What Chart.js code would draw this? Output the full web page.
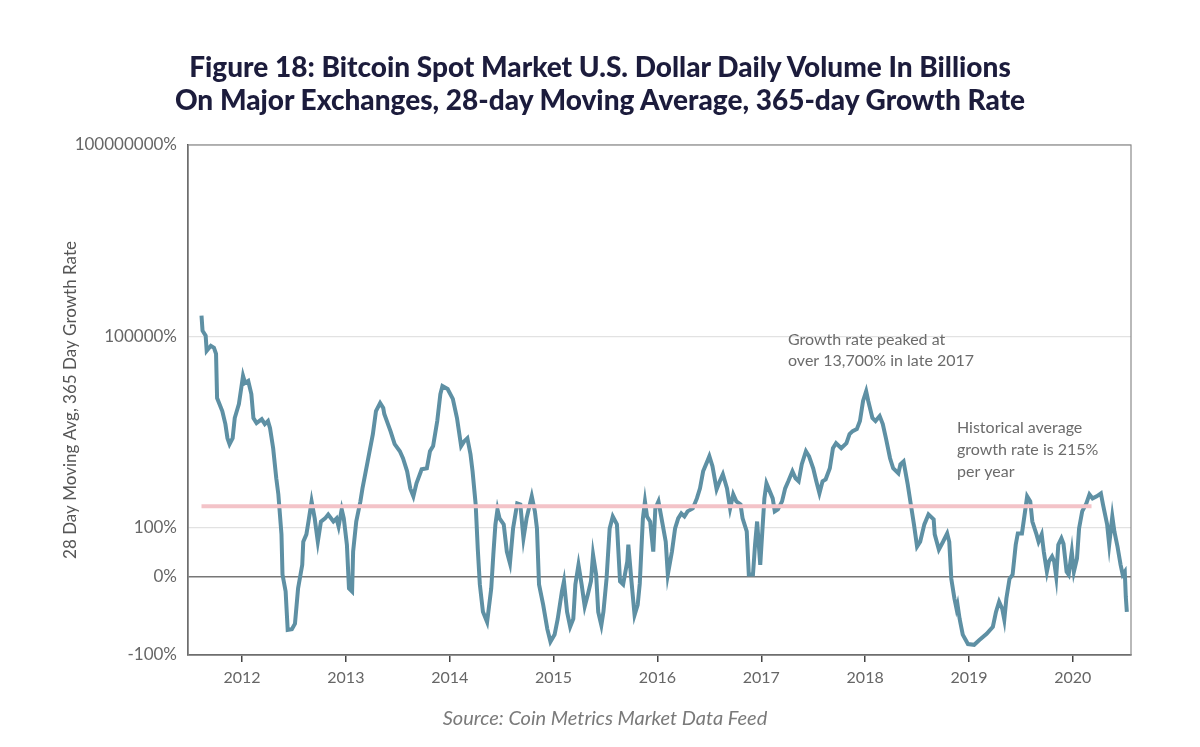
<!DOCTYPE html>
<html>
<head>
<meta charset="utf-8">
<script src="https://cdn.jsdelivr.net/npm/chart.js@4"></script>
<style>
  html, body { margin: 0; padding: 0; background: #fff; }
  #wrap { position: relative; width: 1200px; height: 747px; }
  #title {
    position: absolute; left: 0; top: 50px; width: 1200px; text-align: center;
    font-family: Lato, sans-serif; font-weight: 900; font-size: 28px; line-height: 33px;
    color: #1c1c3c;
  }
  #source {
    position: absolute; left: 0; top: 705px; width: 1210px; text-align: center;
    font-family: Lato, sans-serif; font-style: italic; font-size: 20px; color: #7a7a7a;
  }
  canvas { position: absolute; left: 0; top: 0; }
</style>
</head>
<body>
<div id="wrap">
  <canvas id="growthChart" width="1200" height="747"></canvas>
  <div id="title">Figure 18: Bitcoin Spot Market U.S. Dollar Daily Volume In Billions<br>On Major Exchanges, 28-day Moving Average, 365-day Growth Rate</div>
  <div id="source">Source: Coin Metrics Market Data Feed</div>
</div>
<script>
// dates as decimal years, values as 365-day growth in %
const dates = [
  2011.61, 2011.62, 2011.65, 2011.66, 2011.70, 2011.73, 2011.75, 2011.76, 2011.81, 2011.84,
  2011.86, 2011.88, 2011.91, 2011.93, 2011.97, 2012.01, 2012.03, 2012.06, 2012.09, 2012.11,
  2012.14, 2012.19, 2012.22, 2012.25, 2012.27, 2012.30, 2012.33, 2012.35, 2012.38, 2012.39,
  2012.42, 2012.44, 2012.48, 2012.51, 2012.54, 2012.58, 2012.59, 2012.62, 2012.64, 2012.67,
  2012.70, 2012.73, 2012.76, 2012.80, 2012.83, 2012.88, 2012.91, 2012.93, 2012.96, 2012.98,
  2013.01, 2013.03, 2013.06, 2013.07, 2013.10, 2013.14, 2013.16, 2013.21, 2013.26, 2013.29,
  2013.33, 2013.36, 2013.37, 2013.43, 2013.47, 2013.52, 2013.55, 2013.59, 2013.62, 2013.65,
  2013.68, 2013.73, 2013.78, 2013.81, 2013.84, 2013.88, 2013.91, 2013.93, 2013.98, 2014.03,
  2014.07, 2014.11, 2014.14, 2014.17, 2014.20, 2014.22, 2014.25, 2014.27, 2014.29, 2014.32,
  2014.36, 2014.40, 2014.42, 2014.44, 2014.46, 2014.48, 2014.52, 2014.55, 2014.58, 2014.61,
  2014.65, 2014.68, 2014.71, 2014.74, 2014.79, 2014.82, 2014.84, 2014.86, 2014.90, 2014.94,
  2014.97, 2015.01, 2015.04, 2015.08, 2015.10, 2015.13, 2015.16, 2015.19, 2015.21, 2015.24,
  2015.27, 2015.30, 2015.33, 2015.36, 2015.38, 2015.41, 2015.43, 2015.46, 2015.48, 2015.51,
  2015.54, 2015.57, 2015.61, 2015.64, 2015.67, 2015.71, 2015.72, 2015.75, 2015.78, 2015.81,
  2015.83, 2015.86, 2015.88, 2015.90, 2015.93, 2015.96, 2015.98, 2016.01, 2016.05, 2016.08,
  2016.10, 2016.14, 2016.17, 2016.20, 2016.23, 2016.26, 2016.29, 2016.34, 2016.38, 2016.41,
  2016.44, 2016.48, 2016.50, 2016.53, 2016.57, 2016.60, 2016.63, 2016.67, 2016.70, 2016.73,
  2016.76, 2016.80, 2016.82, 2016.86, 2016.88, 2016.92, 2016.94, 2016.96, 2016.99, 2017.01,
  2017.03, 2017.05, 2017.07, 2017.11, 2017.13, 2017.16, 2017.20, 2017.23, 2017.26, 2017.30,
  2017.33, 2017.36, 2017.39, 2017.43, 2017.46, 2017.50, 2017.53, 2017.56, 2017.59, 2017.62,
  2017.66, 2017.69, 2017.72, 2017.77, 2017.82, 2017.85, 2017.88, 2017.92, 2017.95, 2017.98,
  2018.01, 2018.03, 2018.07, 2018.10, 2018.14, 2018.17, 2018.20, 2018.24, 2018.27, 2018.32,
  2018.34, 2018.37, 2018.41, 2018.44, 2018.47, 2018.50, 2018.53, 2018.57, 2018.61, 2018.66,
  2018.67, 2018.71, 2018.75, 2018.79, 2018.81, 2018.83, 2018.86, 2018.88, 2018.89, 2018.91,
  2018.94, 2018.99, 2019.05, 2019.10, 2019.17, 2019.23, 2019.26, 2019.29, 2019.32, 2019.34,
  2019.36, 2019.39, 2019.42, 2019.45, 2019.47, 2019.51, 2019.54, 2019.56, 2019.59, 2019.61,
  2019.65, 2019.67, 2019.70, 2019.72, 2019.75, 2019.77, 2019.80, 2019.82, 2019.84, 2019.86,
  2019.89, 2019.91, 2019.94, 2019.96, 2019.99, 2020.01, 2020.04, 2020.06, 2020.09, 2020.13,
  2020.16, 2020.19, 2020.23, 2020.27, 2020.29, 2020.33, 2020.35, 2020.38, 2020.40, 2020.43,
  2020.46, 2020.48, 2020.50, 2020.51, 2020.52
];
const growthPct = [
  210400, 122100, 101800, 59100, 70800, 65900, 53000, 10750, 6710, 4190,
  2520, 2030, 2520, 5210, 8650, 23900, 18500, 19900, 12400, 5210,
  4340, 5020, 4190, 4670, 3620, 1750, 591, 331, 86, 4,
  -19, -68, -67, -60, -15, 24, 71, 86, 124, 257,
  139, 71, 124, 139, 160, 124, 139, 104, 192, 139,
  65, -15, -19, 51, 124, 257, 411, 1090, 2910, 6710,
  8970, 7480, 6020, 3250, 2030, 1570, 1220, 762, 411, 308,
  493, 819, 850, 1570, 1890, 4670, 12400, 16600, 14900, 10400,
  5210, 1890, 2260, 2520, 1410, 762, 230, 57, -10, -45,
  -58, -15, 45, 112, 192, 139, 112, 51, 27, 98,
  239, 230, 78, 139, 308, 179, 98, -10, -36, -67,
  -83, -74, -54, -19, -6, -45, -64, -54, -10, 24,
  -10, -38, -23, -6, 45, 4, -45, -62, -45, -3,
  98, 149, 112, -6, -10, 31, 65, -6, -49, -36,
  -9, 139, 257, 149, 124, 51, 199, 257, 112, 71,
  4, 51, 98, 139, 166, 149, 179, 199, 286, 411,
  762, 1090, 1310, 914, 397, 530, 683, 411, 199, 331,
  257, 230, 139, 92, 4, 4, 65, 124, 24, 92,
  286, 493, 411, 286, 179, 192, 257, 411, 530, 762,
  591, 530, 982, 1570, 1310, 850, 530, 343, 530, 570,
  850, 1750, 2100, 1750, 2100, 2910, 3250, 3490, 4670, 9640,
  13700, 9640, 5210, 4670, 5600, 4190, 2520, 1220, 850, 708,
  982, 1090, 475, 230, 112, 61, 71, 112, 160, 134,
  86, 55, 71, 88, 71, -3, -28, -41, -36, -54,
  -74, -86, -87, -81, -73, -64, -45, -32, -41, -55,
  -28, -3, 4, 65, 88, 88, 179, 308, 257, 124,
  86, 71, 86, 51, 10, 31, 41, 31, 0, 65,
  78, 67, 10, 4, 51, 10, 37, 98, 179, 239,
  331, 286, 308, 343, 230, 112, 65, 149, 92, 61,
  24, 4, 10, -26, -45
];

const avgGrowth = 215;          // historical average, % per year
const avgSpan = [2011.61, 2020.18];
const yearTicks = [2012, 2013, 2014, 2015, 2016, 2017, 2018, 2019, 2020];
const yTickValues = [100000000, 100000, 100, 0, -100];
const yTickLabels = ["100000000%", "100000%", "100%", "0%", "-100%"];

// axis is log above 100%, stretched linear below it
function toAxis(g) {
    if (g >= 100) return Math.log10(g / 100);
    if (g >= 0) return -0.77 + 0.77 * g / 100;
    return -0.77 + 1.23 * g / 100;
}

const points = dates.map((d, i) => ({ x: d, y: toAxis(growthPct[i]) }));
const avgLine = avgSpan.map((d) => ({ x: d, y: toAxis(avgGrowth) }));
const yTickPos = yTickValues.map(toAxis);

const notes = {
    id: "notes",
    beforeDatasetsDraw(chart) {
        const { ctx, chartArea: a } = chart;
        ctx.save();
        ctx.strokeStyle = "#8a8a8a";
        ctx.lineWidth = 1.2;
        ctx.strokeRect(a.left, a.top, a.right - a.left, a.bottom - a.top);
        ctx.restore();
    },
    afterDraw(chart) {
        const ctx = chart.ctx;
        ctx.save();
        ctx.fillStyle = "#6b6b6b";
        ctx.font = "16px Lato, sans-serif";
        ctx.textBaseline = "middle";
        ctx.fillText("Growth rate peaked at", 788, 340);
        ctx.fillText("over 13,700% in late 2017", 788, 361);
        ctx.fillText("Historical average", 957, 428);
        ctx.fillText("growth rate is 215%", 957, 450);
        ctx.fillText("per year", 957, 472);
        ctx.restore();
    },
};

new Chart(document.getElementById("growthChart"), {
    type: "line",
    data: {
        datasets: [
            {
                label: "Historical average",
                data: avgLine,
                borderColor: "#f3c3c8",
                borderWidth: 4,
                pointRadius: 0,
                order: 0,
            },
            {
                label: "28 Day Moving Avg, 365 Day Growth Rate",
                data: points,
                borderColor: "#5e90a4",
                borderWidth: 4,
                pointRadius: 0,
                tension: 0,
                order: 1,
            },
        ],
    },
    options: {
        responsive: false,
        animation: false,
        layout: { padding: { top: 145, left: 56, right: 69, bottom: 52 } },
        plugins: { legend: { display: false }, tooltip: { enabled: false } },
        scales: {
            x: {
                type: "linear",
                min: 2011.48,
                max: 2020.56,
                afterBuildTicks: (s) => { s.ticks = yearTicks.map((v) => ({ value: v })); },
                afterFit: (s) => { s.height = 40; },
                ticks: {
                    callback: (v) => String(v),
                    color: "#666",
                    font: { family: "Lato", size: 16 },
                    padding: 6,
                    maxRotation: 0,
                },
                grid: { drawOnChartArea: false, tickLength: 7, color: "#444", lineWidth: 1.5 },
                border: { color: "#444", width: 1.5 },
            },
            y: {
                type: "linear",
                min: -2,
                max: 6,
                afterBuildTicks: (s) => { s.ticks = yTickPos.map((v) => ({ value: v })); },
                afterFit: (s) => { s.width = 132; },
                ticks: {
                    callback: (v, i) => yTickLabels[i],
                    color: "#666",
                    font: { family: "Lato", size: 17 },
                    padding: 11,
                },
                grid: {
                    drawTicks: false,
                    color: (c) => (Math.abs(c.tick.value - toAxis(0)) < 1e-6 ? "#777" : "#e2e2e2"),
                    lineWidth: (c) => (Math.abs(c.tick.value - toAxis(0)) < 1e-6 ? 1.5 : 1.2),
                },
                border: { color: "#444", width: 1.5 },
                title: {
                    display: true,
                    text: "28 Day Moving Avg, 365 Day Growth Rate",
                    color: "#555",
                    font: { family: "Lato", size: 17 },
                },
            },
        },
    },
    plugins: [notes],
});
</script>
</body>
</html>
